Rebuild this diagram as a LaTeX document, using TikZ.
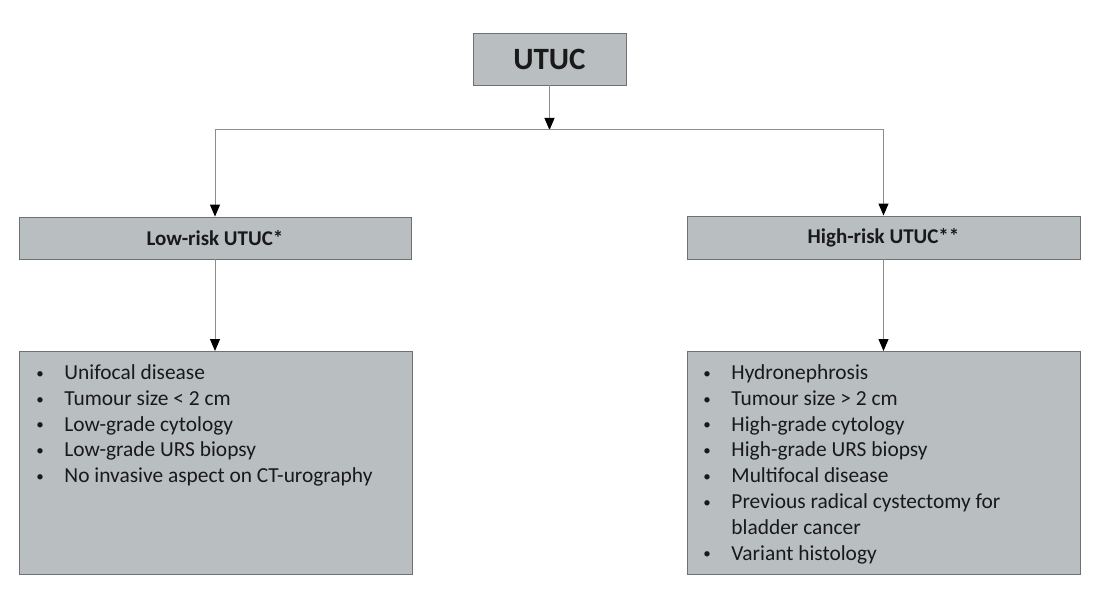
\documentclass[tikz,border=0pt]{standalone}
\usepackage{fontspec}
\setmainfont{Carlito}
\usetikzlibrary{arrows.meta}
\definecolor{boxfill}{RGB}{185,190,193}
\definecolor{boxline}{RGB}{110,112,114}
\definecolor{connline}{RGB}{140,140,140}
\definecolor{txt}{RGB}{25,25,25}
\newcommand{\smallbullet}{\raisebox{1.2pt}{\fontsize{15}{15}\selectfont\textbullet}}
\newcommand{\bline}[2]{\hspace*{#1}\makebox[30pt][l]{\hspace*{2pt}\smallbullet}#2\strut\par}
\newcommand{\contline}[2]{\hspace*{#1}\hspace*{30pt}#2\strut\par}
\begin{document}
\begin{tikzpicture}[x=1pt,y=-1pt,
  box/.style={draw=boxline, fill=boxfill, line width=0.9pt, text=txt, inner sep=0pt},
  conn/.style={draw=connline, line width=1pt},
  arr/.style={conn, -{Triangle[color=black,width=10pt,length=12pt]}},
  listfont/.style={font=\fontsize{21.4}{25.8}\selectfont}
]
\useasboundingbox (0,0) rectangle (1114,604);
\fill[white] (0,0) rectangle (1114,604);

\node[box, minimum width=153pt, minimum height=52pt, font=\bfseries\fontsize{31}{36}\selectfont] (utuc) at (549.5,59) {UTUC};

\node[box, minimum width=392pt, minimum height=42pt, font=\bfseries\fontsize{21}{25}\selectfont] (low) at (215,238) {Low-risk UTUC*};
\node[box, minimum width=393pt, minimum height=43pt, font=\bfseries\fontsize{21}{25}\selectfont] (high) at (883.5,237.5) {High-risk UTUC**};

\node[box, anchor=north west, listfont] (lowlist) at (19,351) {\parbox[c][223pt][t]{393pt}{\raggedright\vspace*{10pt}%
\bline{15pt}{Unifocal disease}
\bline{15pt}{Tumour size < 2 cm}
\bline{15pt}{Low-grade cytology}
\bline{15pt}{Low-grade URS biopsy}
\bline{15pt}{No invasive aspect on CT-urography}}};

\node[box, anchor=north west, listfont] (highlist) at (687,351) {\parbox[c][223pt][t]{393pt}{\raggedright\vspace*{10pt}%
\bline{14pt}{Hydronephrosis}
\bline{14pt}{Tumour size > 2 cm}
\bline{14pt}{High-grade cytology}
\bline{14pt}{High-grade URS biopsy}
\bline{14pt}{Multifocal disease}
\bline{14pt}{Previous radical cystectomy for}
\contline{14pt}{bladder cancer}
\bline{14pt}{Variant histology}}};

\coordinate (split) at (549.5,130);
\coordinate (lj) at (low.north |- split);
\coordinate (rj) at (high.north |- split);

\draw[arr] (utuc.south) -- (split);
\draw[conn] (lj) -- (rj);
\draw[arr] (lj) -- (low.north);
\draw[arr] (rj) -- (high.north);
\draw[arr] (low.south) -- (lowlist.north -| low.south);
\draw[arr] (high.south) -- (highlist.north -| high.south);
\end{tikzpicture}
\end{document}
